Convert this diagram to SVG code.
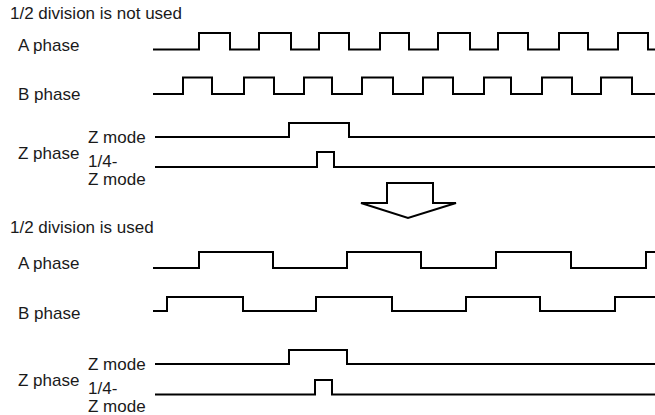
<svg xmlns="http://www.w3.org/2000/svg" width="655" height="415" viewBox="0 0 655 415">
<style>
.t{font-family:"Liberation Sans",Arial,sans-serif;font-size:17px;fill:#1a1a1a}
.w{fill:none;stroke:#000;stroke-width:2;stroke-linejoin:miter;stroke-linecap:butt}
</style>
<rect width="655" height="415" fill="#fff"/>
<g id="top">
<text class="t" x="10" y="19">1/2 division is not used</text>
<g id="top-a"><text class="t" x="18" y="51">A phase</text>
<path class="w" d="M153,49.5 H199 V33 H230 V49.5 H259 V33 H291 V49.5 H319 V33 H349 V49.5 H380 V33 H409 V49.5 H438 V33 H470 V49.5 H498 V33 H528 V49.5 H559 V33 H588 V49.5 H618 V33 H648 V49.5 H656"/></g>
<g id="top-b"><text class="t" x="18" y="99.5">B phase</text>
<path class="w" d="M153,94 H183 V77.5 H212 V94 H244 V77.5 H274 V94 H304 V77.5 H332 V94 H362 V77.5 H393 V94 H423 V77.5 H453 V94 H484 V77.5 H511 V94 H542 V77.5 H572 V94 H601 V77.5 H632 V94 H656"/></g>
<g id="top-z"><text class="t" x="18" y="158.5">Z phase</text>
<text class="t" x="88" y="142.5">Z mode</text>
<text class="t" x="88" y="166.5">1/4-</text>
<text class="t" x="88" y="185">Z mode</text>
<path class="w" d="M155,137 H289 V123 H349 V137 H656"/>
<path class="w" d="M155,167 H317 V152 H334 V167 H656"/></g>
</g>
<g id="arrow">
<polygon points="387,183 433,183 433,203 456,203 408,218 361,203 387,203" fill="#fff" stroke="#000" stroke-width="2" stroke-linejoin="miter"/>
</g>
<g id="bottom">
<text class="t" x="10" y="233">1/2 division is used</text>
<g id="bot-a"><text class="t" x="18" y="269">A phase</text>
<path class="w" d="M153,268 H199 V252 H273 V268 H347 V252 H421 V268 H496 V252 H571 V268 H646 V252 H656"/></g>
<g id="bot-b"><text class="t" x="18" y="319">B phase</text>
<path class="w" d="M153,311 H167 V297 H243 V311 H316 V297 H392 V311 H466 V297 H540 V311 H615 V297 H656"/></g>
<g id="bot-z"><text class="t" x="18" y="386">Z phase</text>
<text class="t" x="88" y="370">Z mode</text>
<text class="t" x="88" y="393.5">1/4-</text>
<text class="t" x="88" y="412">Z mode</text>
<path class="w" d="M155,364 H289 V350 H347 V364 H656"/>
<path class="w" d="M155,394.5 H315 V380 H332 V394.5 H656"/></g>
</g>
</svg>
